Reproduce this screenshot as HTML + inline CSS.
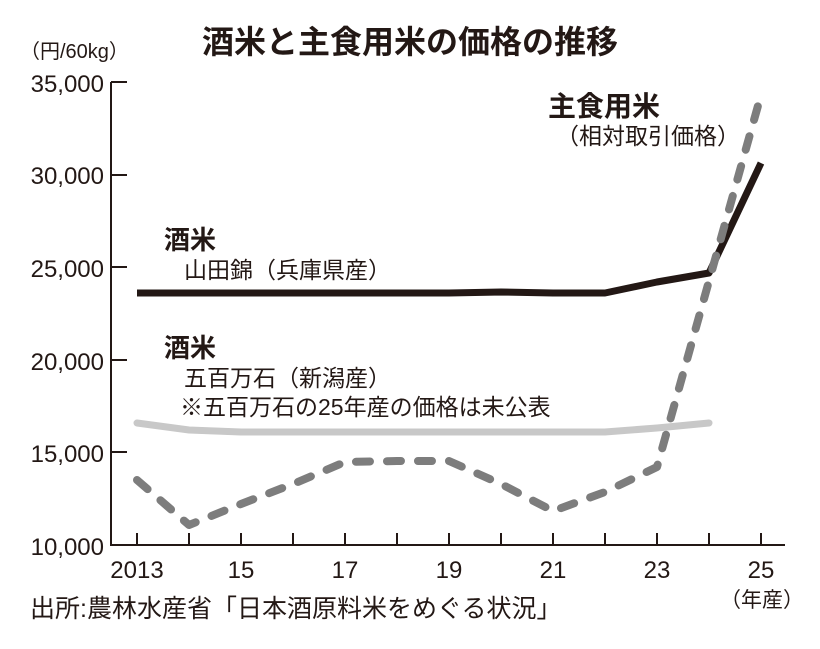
<!DOCTYPE html>
<html><head><meta charset="utf-8"><style>
body{margin:0;background:#fff;}
svg text{font-family:"Liberation Sans","Noto Sans CJK JP",sans-serif;fill:#231815;}
</style></head><body>
<svg width="820" height="644" viewBox="0 0 820 644" xmlns="http://www.w3.org/2000/svg">
<text x="410" y="53" font-size="32" text-anchor="middle" font-weight="bold">酒米と主食用米の価格の推移</text>
<text x="20" y="58" font-size="20">（円/60kg）</text>
<g font-size="24" text-anchor="end">
<text x="104" y="92">35,000</text>
<text x="104" y="184">30,000</text>
<text x="104" y="277">25,000</text>
<text x="104" y="370">20,000</text>
<text x="104" y="462">15,000</text>
<text x="104" y="555">10,000</text>
</g>
<g stroke="#231815" stroke-width="2" fill="none">
<path d="M111 82 V545 H785"/>
<path d="M111 82 H127 M111 175 H127 M111 267 H127 M111 360 H127 M111 452 H127"/>
<path d="M137 545v-12 M189 545v-12 M241 545v-12 M293 545v-12 M345 545v-12 M397 545v-12 M449 545v-12 M501 545v-12 M553 545v-12 M605 545v-12 M657 545v-12 M709 545v-12 M761 545v-12"/>
</g>
<g font-size="24" text-anchor="middle">
<text x="137" y="578">2013</text><text x="241" y="578">15</text><text x="345" y="578">17</text>
<text x="449" y="578">19</text><text x="553" y="578">21</text><text x="657" y="578">23</text><text x="761" y="578">25</text>
</g>
<text x="762" y="607" font-size="21" text-anchor="middle">（年産）</text>
<text x="30" y="617" font-size="25">出所:農林水産省「日本酒原料米をめぐる状況」</text>
<polyline fill="none" stroke="#c8c8c8" stroke-width="7" stroke-linecap="round" points="137,423 189,430 241,432 293,432 345,432 397,432 449,432 501,432 553,432 605,432 657,428 709,423"/>
<polyline fill="none" stroke="#231815" stroke-width="7" stroke-linejoin="round" points="137,293 189,293 241,293 293,293 345,293 397,293 449,293 501,292 553,293 605,293 657,282 709,273 761,163"/>
<polyline fill="none" stroke="#7d7d7d" stroke-width="8" stroke-dasharray="14,17" stroke-linecap="round" stroke-linejoin="round" points="137,480 189,525 241,504 293,484 345,462 397,461 449,461 501,484 553,511 605,492 657,467 761,95"/>
<text x="164" y="249" font-size="26" font-weight="bold">酒米</text>
<text x="184" y="278" font-size="23">山田錦（兵庫県産）</text>
<text x="164" y="357" font-size="26" font-weight="bold">酒米</text>
<text x="184" y="386" font-size="23">五百万石（新潟産）</text>
<text x="180" y="415" font-size="23">※五百万石の25年産の価格は未公表</text>
<text x="548" y="116" font-size="28" font-weight="bold">主食用米</text>
<text x="556" y="144" font-size="23">（相対取引価格）</text>
</svg>
</body></html>
